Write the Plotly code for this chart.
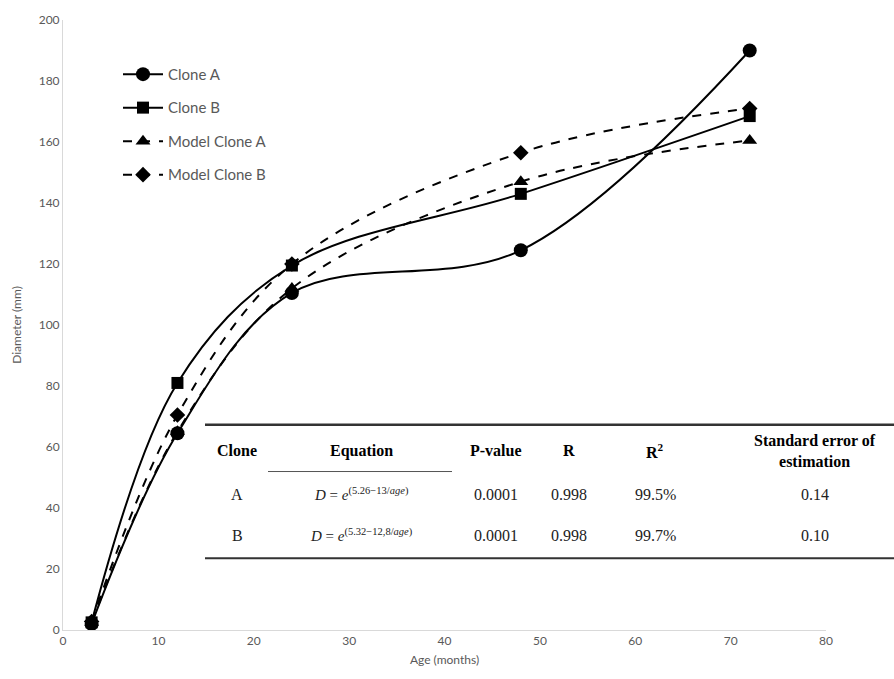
import plotly.graph_objects as go

# ---- data ----
age = [3, 12, 24, 48, 72]
clone_a = [2.0, 64.5, 110.5, 124.5, 190.0]
clone_b = [2.5, 81.0, 119.5, 143.0, 168.5]
model_a = [2.5, 65.0, 112.0, 147.0, 160.5]
model_b = [2.8, 70.5, 120.0, 156.5, 171.0]

table_header = ["Clone", "Equation", "P-value", "R", "R<sup>2</sup>", "Standard error of<br>estimation"]
table_rows = [
    ["A", "<i>D</i> = <i>e</i><sup>(5.26−13/<i>age</i>)</sup>", "0.0001", "0.998", "99.5%", "0.14"],
    ["B", "<i>D</i> = <i>e</i><sup>(5.32−12,8/<i>age</i>)</sup>", "0.0001", "0.998", "99.7%", "0.10"],
]

# ---- layout geometry (pixels) ----
W, H = 894, 679
L, R, T, B = 63, 68, 18, 49
PW = W - L - R
PH = H - T - B


def px(x):
    return (x - L) / PW


def py(y):
    return (H - B - y) / PH


fig = go.Figure()

series = [
    ("Clone A", clone_a, "solid", "circle", 14),
    ("Clone B", clone_b, "solid", "square", 12),
    ("Model Clone A", model_a, "dash", "triangle-up", 13),
    ("Model Clone B", model_b, "dash", "diamond", 12),
]
for name, vals, dash, sym, size in series:
    fig.add_trace(go.Scatter(
        x=age, y=vals, name=name, mode="lines+markers",
        line=dict(color="black", width=2, dash=dash, shape="spline", smoothing=1.0),
        marker=dict(symbol=sym, size=size, color="black"),
        legendgroup=name,
    ))

fig.update_layout(
    width=W, height=H,
    margin=dict(l=L, r=R, t=T, b=B),
    paper_bgcolor="white", plot_bgcolor="white",
    font=dict(family="Lato, Open Sans, sans-serif", color="#595959", size=12),
    showlegend=True,
    legend=dict(x=px(118), y=py(56), xanchor="left", yanchor="top",
                font=dict(size=15, color="#595959"),
                tracegroupgap=11, bgcolor="rgba(0,0,0,0)", itemwidth=40),
    xaxis=dict(range=[0, 80], dtick=10, showgrid=False, zeroline=False,
               showline=True, linecolor="#d9d9d9", linewidth=1, ticks="",
               title=dict(text="Age (months)", font=dict(size=12), standoff=8),
               tickfont=dict(size=12)),
    yaxis=dict(range=[0, 200], dtick=20, showgrid=False, zeroline=False,
               showline=True, linecolor="#d9d9d9", linewidth=1, ticks="",
               title=dict(text="Diameter (mm)", font=dict(size=12), standoff=14),
               tickfont=dict(size=12)),
)

# ---- table overlay ----
col_x = [237, 361, 496, 569, 655, 815]
header_y = 450
row_y = [494, 535]
serif = "Liberation Serif, Times New Roman, serif"

for cx, txt in zip(col_x, table_header):
    fig.add_annotation(x=px(cx), y=py(header_y), xref="paper", yref="paper",
                       text="<b>" + txt + "</b>", showarrow=False,
                       font=dict(family=serif, size=16, color="black"),
                       xanchor="center", yanchor="middle")

for ry, row in zip(row_y, table_rows):
    for i, (cx, txt) in enumerate(zip(col_x, row)):
        fig.add_annotation(x=px(cx), y=py(ry), xref="paper", yref="paper",
                           text=txt, showarrow=False,
                           font=dict(family=serif, size=15 if i == 1 else 16,
                                     color="#222222"),
                           xanchor="center", yanchor="middle")

fig.add_shape(type="line", xref="paper", yref="paper",
              x0=px(205), x1=px(894), y0=py(424), y1=py(424),
              line=dict(color="#333333", width=2.5))
fig.add_shape(type="line", xref="paper", yref="paper",
              x0=px(268), x1=px(452), y0=py(471), y1=py(471),
              line=dict(color="#555555", width=1))
fig.add_shape(type="line", xref="paper", yref="paper",
              x0=px(205), x1=px(894), y0=py(558), y1=py(558),
              line=dict(color="#333333", width=2))

fig.write_html("out.html")
